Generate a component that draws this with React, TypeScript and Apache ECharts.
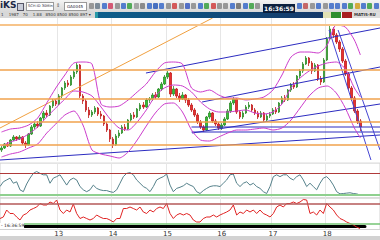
import React, { useEffect, useRef } from "react";
import * as echarts from "echarts";

// ---- price data (arbitrary price units), one candle per slot ----
const opens = [10,12,16,14,20,23,21,23,17,15, 26,33,36,34,42,47,45,54,59,56, 64,72,77,75,83,88,95,64,59,50, 45,48,52,46,44,36,30,21,15,24, 27,33,31,40,45,43,51,55,53,60, 61,65,63,71,76,83,87,66,71,64, 61,65,60,55,50,45,38,33,30,43, 47,39,36,32,35,41,49,57,61,48, 43,47,53,55,50,47,43,47,40,44, 46,50,48,57,62,60,70,75,73,84, 89,96,102,97,89,95,81,78,100,121, 131,125,118,111,99,86,72,62,49,39];
const closes = [12,16,14,20,23,21,23,17,15,26, 33,36,34,42,47,45,54,59,56,64, 72,77,75,83,88,95,64,59,50,45, 48,52,46,44,36,30,21,15,24,27, 33,31,40,45,43,51,55,53,60,61, 65,63,71,76,83,87,66,71,64,61, 65,60,55,50,45,38,33,30,43,47, 39,36,32,35,41,49,57,61,48,43, 47,53,55,50,47,43,47,40,44,46, 50,48,57,62,60,70,75,73,84,89, 96,102,97,89,95,81,78,100,121,131, 125,118,111,99,86,72,62,49,39,33];
const highs = [14,17,18,21,25,24,25,24,19,27, 35,38,39,43,49,50,55,61,61,66, 73,79,80,85,90,97,96,66,61,53, 50,54,53,49,45,38,31,23,26,30, 35,36,41,47,48,52,57,58,62,63, 67,68,72,78,85,89,88,74,72,67, 68,66,62,57,52,47,40,35,44,49, 48,41,38,37,43,51,59,63,62,50, 49,55,58,56,52,49,49,48,46,48, 52,53,58,64,65,71,77,78,85,91, 98,104,103,99,97,96,84,102,123,135, 133,127,120,113,101,88,74,64,51,41];
const lows = [8,11,13,13,19,19,20,15,12,14, 25,31,32,33,40,43,44,52,54,55, 62,70,73,74,81,86,62,56,48,42, 43,46,44,41,34,28,18,12,14,22, 26,29,30,38,41,42,49,51,52,57, 59,61,62,69,75,81,63,64,62,58, 60,57,53,48,43,36,31,28,29,41, 37,34,30,30,34,40,47,55,46,41, 41,46,51,48,45,41,42,38,39,42, 45,46,47,55,58,59,68,71,72,82, 87,95,94,86,88,79,75,77,99,120, 122,116,108,97,84,70,59,47,36,29];

const upperBand = [28,31,32,35,42,57,72,85,97,98, 96,56,53,54,60,68,76,88,97,98, 96,72,68,70,65,62,62,60,61,63, 70,85,103,108,108,107,115,135,133,120, 105];
const middleBand = [14,18,21,26,33,43,52,61,69,68, 64,53,41,32,30,38,50,64,72,75, 74,68,58,51,48,48,49,50,47,46, 48,56,72,82,89,94,97,98,91,72, 63];
const lowerBand = [3,6,8,12,16,27,36,45,49,35, 10,6,4,2,8,20,34,47,56,57, 48,30,20,19,23,27,30,30,31,32, 30,32,40,52,64,72,74,67,52,32, 22];

// time axis
const dayLabels = ["13", "14", "15", "16", "17", "18"];
const dayStarts = [19, 37, 55, 73, 90, 108];
const slotCount = 126;

// horizontal support/resistance levels
const levels = [135, 90, 61, 38, 15];
// drawn trend lines: [[candle, price], [candle, price]]
const orangeTrend = [[-0.5, 32], [70, 142]];
const blueTrends = [
  [[47.9, 87], [125.5, 132]],
  [[66.5, 58], [125.5, 93]],
  [[63.2, 27], [125.5, 56]],
  [[-0.5, 0], [125.5, 25]],
  [[63, 33], [125.5, 33]],
  [[63, 28], [125.5, 28]],
  [[108.6, 130], [122.5, 0]],
  [[111.6, 130], [125.5, 10]],
];

// oscillators
const stochValues = [43,56,61,66,52,56,34,29,50,66,79,84,79,75,75,52,66,70,75,61,47,61,66,61,43,34,29,34,47,38,34,32,32,29,27,34,52,70,79,81,75,61,52,43,38,29,43,61,66,70,77,47,29,38,41,45,52,47,
  43,29,24,32,38,43,45,45,43,52,61,75,77,52,43,52,56,47,52,43,38,29,24,43,70,75,70,75,75,66,61,70,75,61,43,52,43,34,52,66,70,61,47,29,23,24,25,26,24,23,20];
const rsiValues = [40,43,57,50,50,43,37,47,50,57,60,63,70,67,67,73,70,77,57,50,57,53,69,50,40,43,40,37,40,47,43,40,40,37,33,40,40,60,60,63,60,57,63,53,50,57,53,60,63,60,70,50,40,47,50,47,50,47,
  37,33,33,40,43,43,47,43,47,50,53,57,67,47,53,50,57,53,57,50,57,50,47,43,50,63,67,63,70,70,73,70,73,78,77,50,53,47,57,50,70,63,57,47,40,37,33,30,27,23,20];
const stochLevels = [80, 20];
const rsiLevels = [70, 30];

const toolIcons = ["#8a8a8a","#6a7a8a","#3a6ac8","#d04060","#8a8a8a","#3a6ac8","#3aa040","#9a9a9a","#7a7a7a","#3a6ac8","#2a5ab8","#3a6ac8","#8a8a8a","#d04040","#8a8a8a","#3a5ac0","#8a8a8a","#3a6ac8","#3aa040","#d04040","#8a8a8a","#8a8a8a","#3a6ac8","#6a6a6a","#3a6ac8","#3aa040","#8a8a8a","#3a6ac8","#c05050","#8a8a8a",
  "#3a6ac8","#8a8a8a","#3a6ac8","#3a6ac8","#3a6ac8","#3aa040","#d0a020","#3a6ac8","#3aa040","#3a6ac8","#d08020","#3a6ac8"];

const categories = Array.from({ length: slotCount }, (_, i) => {
  const d = dayStarts.indexOf(i);
  return d >= 0 ? dayLabels[d] : "";
});

function buildOption(): any {
  const candleData = closes.map((c, i) => [opens[i], c, lows[i], highs[i]]);
  const bandIdx = upperBand.map((_, k) => (k < upperBand.length - 1 ? k * 3 : closes.length - 1));
  const band = (arr: number[]) => arr.map((v, k) => [bandIdx[k], v]);
  const isDay = (i: number) => dayStarts.indexOf(i) >= 0;
  const vSplit = { show: true, interval: (i: number) => isDay(i), lineStyle: { color: "#e6e6e6", width: 1 } };
  const hidden = { axisLine: { show: false }, axisTick: { show: false }, axisLabel: { show: false } };

  const lineSeries = (data: any, color: string, width: number, extra: any = {}) => ({
    type: "line", xAxisIndex: 1, yAxisIndex: 0, data, symbol: "none", silent: true,
    lineStyle: { color, width }, ...extra,
  });

  return {
    animation: false,
    backgroundColor: "#ffffff",
    grid: [
      { left: 0, right: 0, top: 18, height: 143 },
      { left: 0, right: 0, top: 163.1, height: 34.8, show: true, borderColor: "#d2d2d2", borderWidth: 1, backgroundColor: "transparent" },
      { left: 0, right: 0, top: 198, height: 31.5, show: true, borderColor: "#d2d2d2", borderWidth: 1, backgroundColor: "transparent" },
      { left: 0, right: 0, top: 224, height: 3 },
      { left: 25, right: 15, top: 225, height: 1 },
    ],
    xAxis: [
      { type: "category", gridIndex: 0, data: categories, boundaryGap: true, ...hidden, splitLine: vSplit },
      { type: "value", gridIndex: 0, min: -0.5, max: slotCount - 0.5, show: false, splitLine: { show: false } },
      { type: "category", gridIndex: 1, data: categories, boundaryGap: true, ...hidden, splitLine: vSplit },
      { type: "value", gridIndex: 1, min: 0, max: 114, show: false, splitLine: { show: false } },
      { type: "category", gridIndex: 2, data: categories, boundaryGap: true, ...hidden, splitLine: vSplit },
      { type: "value", gridIndex: 2, min: 0, max: 114, show: false, splitLine: { show: false } },
      {
        type: "category", gridIndex: 3, data: categories, boundaryGap: true, position: "bottom",
        axisLine: { show: false },
        axisTick: { show: false },
        axisLabel: { show: true, interval: (i: number) => isDay(i), fontSize: 7, color: "#333", margin: 3, fontFamily: "DejaVu Sans" },
        splitLine: { show: false },
      },
      {
        type: "value", gridIndex: 4, min: 0, max: 1, position: "bottom",
        axisLine: { show: true, lineStyle: { color: "#000", width: 3, type: [2.2, 0.8] } },
        axisTick: { show: false }, axisLabel: { show: false }, splitLine: { show: false },
      },
    ],
    yAxis: [
      { type: "value", gridIndex: 0, min: -1, max: 142, show: false, splitLine: { show: false } },
      { type: "value", gridIndex: 1, min: 12, max: 107, show: false, splitLine: { show: false } },
      { type: "value", gridIndex: 2, min: 18, max: 81, show: false, splitLine: { show: false } },
      { type: "value", gridIndex: 3, show: false, splitLine: { show: false } },
      { type: "value", gridIndex: 4, show: false, splitLine: { show: false } },
    ],
    series: [
      {
        type: "candlestick", xAxisIndex: 0, yAxisIndex: 0, data: candleData, barWidth: 2, silent: true,
        itemStyle: { color: "#33c233", color0: "#e63030", borderColor: "#2f8a2a", borderColor0: "#c01c1c", borderWidth: 0.8 },
        markLine: {
          silent: true, symbol: ["none", "none"], label: { show: false },
          data: levels.map((v, k) => ({
            yAxis: v,
            lineStyle: { color: k === 0 ? "#f7c48a" : "#f0a24c", width: k === 0 ? 2 : 1.5, type: "solid" },
          })),
        },
      },
      lineSeries(orangeTrend, "#f0a040", 1),
      ...blueTrends.map((t, k) => lineSeries(t, k >= 6 ? "#4646d2" : "#2c2cc0", 1)),
      lineSeries(band(upperBand), "#cc3ccc", 1, { smooth: 0.25 }),
      lineSeries(band(middleBand), "#cc3ccc", 1, { smooth: 0.25 }),
      lineSeries(band(lowerBand), "#cc3ccc", 1, { smooth: 0.25 }),
      {
        type: "line", xAxisIndex: 3, yAxisIndex: 1, data: stochValues.map((v, k) => [k, v]), symbol: "none", silent: true,
        lineStyle: { color: "#55808a", width: 1 },
        markLine: {
          silent: true, symbol: ["none", "none"], label: { show: false },
          data: [
            { yAxis: stochLevels[0], lineStyle: { color: "#b03a3a", width: 1.2, type: "solid" } },
            { yAxis: stochLevels[1], lineStyle: { color: "#8fd08f", width: 2, type: "solid" } },
          ],
        },
      },
      {
        type: "line", xAxisIndex: 5, yAxisIndex: 2, data: rsiValues.map((v, k) => [k, v]), symbol: "none", silent: true,
        lineStyle: { color: "#e02424", width: 1 },
        markLine: {
          silent: true, symbol: ["none", "none"], label: { show: false },
          data: [
            { yAxis: rsiLevels[0], lineStyle: { color: "#b45858", width: 1.5, type: "solid" } },
            { yAxis: rsiLevels[1], lineStyle: { color: "#74c474", width: 1.5, type: "solid" } },
          ],
        },
      },
    ],
  };
}

const tiny: any = { position: "absolute", fontFamily: "DejaVu Sans, sans-serif", whiteSpace: "nowrap", lineHeight: 1 };

export default function App() {
  const ref = useRef<HTMLDivElement>(null);
  useEffect(() => {
    const chart = echarts.init(ref.current as HTMLDivElement, null, { renderer: "svg" });
    chart.setOption(buildOption());
    return () => chart.dispose();
  }, []);

  const icons: any[] = [];
  let x = 89;
  toolIcons.forEach((c, k) => {
    if (x > 260 && x < 296) x = 297;
    icons.push(
      <div key={k} style={{ position: "absolute", left: x, top: 3, width: 5, height: 6, background: c, borderRadius: 1, opacity: 0.85 }} />
    );
    x += 6.4;
  });

  return (
    <div style={{ position: "fixed", left: 0, top: 0, width: 380, height: 240, overflow: "hidden", background: "#fff" }}>
      <div ref={ref} style={{ position: "absolute", left: 0, top: 0, width: 380, height: 240 }} />
      {/* toolbar row 1 */}
      <div style={{ position: "absolute", left: 0, top: 0, width: 380, height: 12, background: "linear-gradient(#f4f4f4,#d8d8d8)" }}>
        <div style={{ ...tiny, left: 0, top: 1, fontSize: 9, fontWeight: 700, color: "#1c2846" }}>iKS</div>
        <div style={{ position: "absolute", left: 17, top: 3, width: 5, height: 6, border: "1px solid #556", background: "#c8ccd8" }} />
        <div style={{ position: "absolute", left: 26, top: 2, width: 26, height: 7, background: "#fff", border: "1px solid #9a9a9a", overflow: "hidden" }}>
          <div style={{ ...tiny, left: 1, top: 1.5, fontSize: 3.6, color: "#223" }}>SCH-ID 30Min</div>
        </div>
        <div style={{ ...tiny, left: 56, top: 3, fontSize: 5, color: "#555" }}>⇕</div>
        <div style={{ position: "absolute", left: 64, top: 2, width: 21, height: 7, background: "#fff", border: "1px solid #9a9a9a", overflow: "hidden" }}>
          <div style={{ ...tiny, left: 2, top: 1.5, fontSize: 4, color: "#223" }}>GA0045</div>
        </div>
        {icons}
      </div>
      {/* toolbar row 2 */}
      <div style={{ position: "absolute", left: 0, top: 12, width: 95, height: 6, background: "#d8d8d8" }}>
        <div style={{ ...tiny, left: 1, top: 1, fontSize: 4, color: "#333" }}>1&nbsp;&nbsp;&nbsp;&nbsp;1987&nbsp;&nbsp;&nbsp;70&nbsp;&nbsp;&nbsp;&nbsp;1.88&nbsp;&nbsp;&nbsp;8500 8500 8500 897 ▾</div>
      </div>
      <div style={{ position: "absolute", left: 95, top: 12, width: 3, height: 6, background: "#2a9aa8" }} />
      <div style={{ position: "absolute", left: 98, top: 12, width: 225, height: 6, background: "linear-gradient(to right,#0e5f8c,#15396a)" }} />
      <div style={{ position: "absolute", left: 323, top: 12, width: 8, height: 6, background: "#e2e2b4" }} />
      <div style={{ position: "absolute", left: 331, top: 12, width: 10, height: 6, background: "#2f8f2f" }} />
      <div style={{ position: "absolute", left: 342, top: 12, width: 10, height: 6, background: "#a82020" }} />
      <div style={{ position: "absolute", left: 352, top: 12, width: 28, height: 6, background: "#dedede" }}>
        <div style={{ ...tiny, left: 2, top: 1, fontSize: 4, fontWeight: 700, color: "#333" }}>MATIS-RU</div>
      </div>
      {/* clock */}
      <div style={{ position: "absolute", left: 263, top: 4, width: 32, height: 9, background: "#0b1f3d", color: "#fff", fontFamily: "DejaVu Sans, sans-serif", fontSize: 6, fontWeight: 700, lineHeight: "9px", textAlign: "center", whiteSpace: "nowrap" }}>16:36:59</div>
      {/* bottom */}
      <div style={{ position: "absolute", left: 0, top: 223, width: 24, height: 6, background: "#fff" }}>
        <div style={{ ...tiny, left: 1, top: 0.5, fontSize: 4.5, color: "#222" }}>- 16:36:59</div>
      </div>
      <div style={{ position: "absolute", left: 0, top: 236, width: 380, height: 4, background: "#d2d2d2" }} />
    </div>
  );
}
